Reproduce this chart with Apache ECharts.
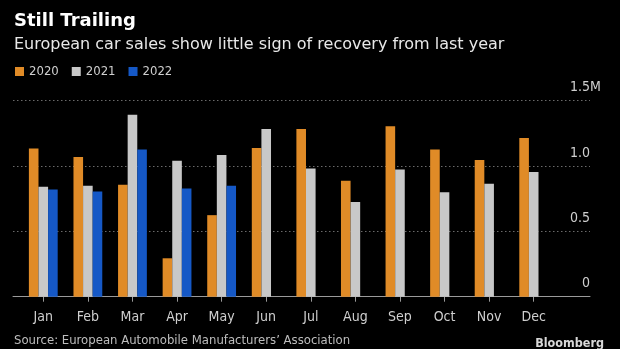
<!DOCTYPE html>
<html>
<head>
<meta charset="utf-8">
<script src="https://cdn.jsdelivr.net/npm/echarts@6/dist/echarts.min.js"></script>
<style>
html,body{margin:0;padding:0;background:#000;}
#c{width:620px;height:349px;}
</style>
</head>
<body>
<div id="c"></div>
<script>
const months = ['Jan','Feb','Mar','Apr','May','Jun','Jul','Aug','Sep','Oct','Nov','Dec'];
const sales2020 = [1.135,1.069,0.857,0.294,0.624,1.138,1.283,0.887,1.304,1.127,1.046,1.215];
const sales2021 = [0.841,0.849,1.393,1.041,1.084,1.283,0.982,0.724,0.974,0.800,0.864,0.954];
const sales2022 = [0.821,0.805,1.127,0.828,0.849,null,null,null,null,null,null,null];
const yTicks = [0,0.5,1.0,1.5];

const condensed = '"DejaVu Sans Condensed", "DejaVu Sans", sans-serif';
const chart = echarts.init(document.getElementById('c'), null, {renderer:'canvas'});
const barBase = {type:'bar', xAxisIndex:1, yAxisIndex:2, barWidth:9.6, barGap:'0%'};
chart.setOption({
  backgroundColor:'#000',
  animation:false,
  title:[
    {text:'Still Trailing', left:9, top:7, textStyle:{color:'#fff', fontFamily:'"DejaVu Sans"', fontWeight:'bold', fontSize:18}},
    {text:'European car sales show little sign of recovery from last year', left:9, top:32, textStyle:{color:'#e8e8e8', fontFamily:'"DejaVu Sans"', fontWeight:'normal', fontSize:16}}
  ],
  legend:{
    left:15, top:65, padding:0, icon:'rect', itemWidth:9, itemHeight:9, itemGap:13,
    textStyle:{color:'#cfcfcf', fontFamily:condensed, fontSize:13},
    data:['2020','2021','2022']
  },
  graphic:[
    {type:'text', left:14, top:334, style:{text:'Source: European Automobile Manufacturers\u2019 Association', fill:'#bdbdbd', font:'13px ' + condensed}},
    {type:'text', right:16, top:337, style:{text:'Bloomberg', fill:'#d8d8d8', font:'bold 12.5px ' + condensed}}
  ],
  grid:[
    {left:13, right:30, top:100.7, bottom:52.3},
    {left:21, right:64, top:100.7, bottom:52.3}
  ],
  xAxis:[
    {gridIndex:0, type:'value', min:0, max:1, axisLabel:{show:false}, splitLine:{show:false}, axisTick:{show:false},
     axisLine:{show:true, lineStyle:{color:'#9a9a9a', width:1}}},
    {gridIndex:1, type:'category', data:months, axisLine:{show:false},
     axisTick:{show:true, alignWithLabel:true, length:5, lineStyle:{color:'#9a9a9a'}},
     axisLabel:{color:'#cfcfcf', fontFamily:condensed, fontSize:14, margin:14}}
  ],
  yAxis:[
    {gridIndex:0, type:'value', position:'right', min:0, max:1.5, interval:0.5,
     axisLine:{show:false}, axisTick:{show:false},
     splitLine:{show:true, lineStyle:{color:'#6a6a6a', type:[1.5,2.5], width:1}},
     axisLabel:{inside:true, margin:0, color:'#cfcfcf', fontFamily:condensed, fontSize:14, verticalAlign:'bottom', padding:[0,0,6,0],
       formatter:v => v===0 ? '0' : v.toFixed(1)}},
    {gridIndex:0, type:'value', position:'right', min:0, max:1.5, interval:0.5,
     axisLine:{show:false}, axisTick:{show:false}, splitLine:{show:false},
     axisLabel:{inside:false, margin:0, color:'#cfcfcf', fontFamily:condensed, fontSize:14, verticalAlign:'bottom', padding:[0,0,6,0],
       formatter:v => v===yTicks[yTicks.length-1] ? 'M' : ''}},
    {gridIndex:1, type:'value', min:0, max:1.5, show:false}
  ],
  series:[
    Object.assign({name:'2020', data:sales2020, itemStyle:{color:'#e08b27'}}, barBase),
    Object.assign({name:'2021', data:sales2021, itemStyle:{color:'#c8c8c8'}}, barBase),
    Object.assign({name:'2022', data:sales2022, itemStyle:{color:'#1558c6'}}, barBase)
  ]
});
</script>
</body>
</html>
